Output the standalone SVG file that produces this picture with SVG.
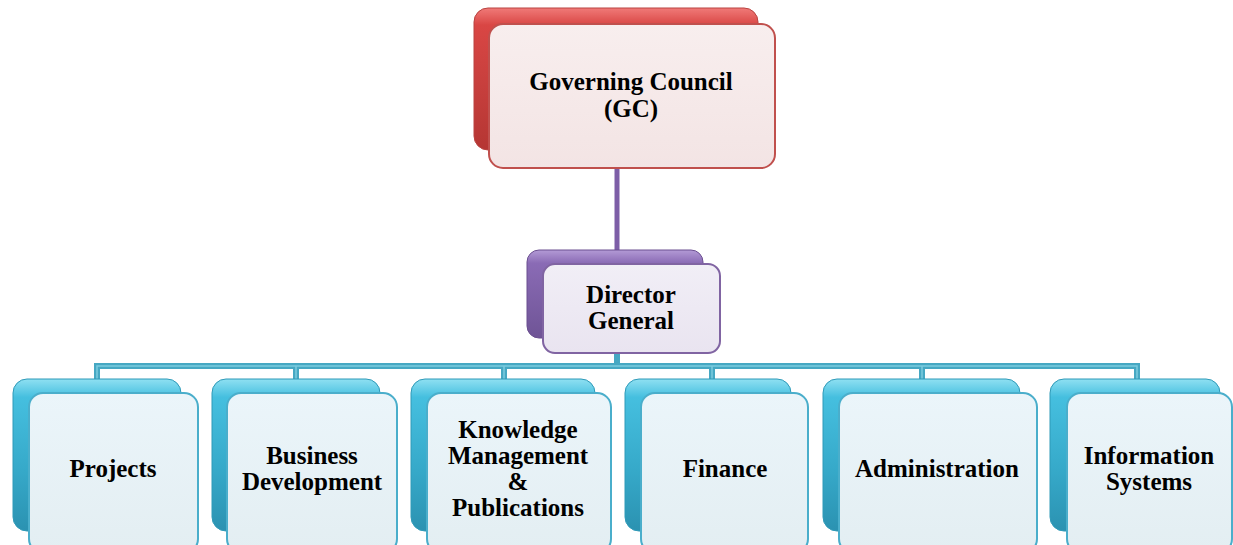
<svg xmlns="http://www.w3.org/2000/svg" width="1233" height="545" viewBox="0 0 1233 545">
<style>
text{font-family:"Liberation Serif","Times New Roman",serif;font-weight:bold;font-size:25px;fill:#000;text-anchor:middle}
.fr{fill:url(#fr);stroke:#c0504d;stroke-width:2}
.fp{fill:url(#fp);stroke:#8064a2;stroke-width:2}
.ft{fill:url(#ft);stroke:#4aaecb;stroke-width:2}
.br{fill:url(#gr);stroke:#b94340;stroke-width:1}
.bp{fill:url(#gp);stroke:#6b4f90;stroke-width:1}
.bt{fill:url(#gt);stroke:#2f9ab8;stroke-width:1}
.ct{fill:none;stroke:#46a8c3;stroke-width:6}
.ci{fill:none;stroke:#7ccbe0;stroke-width:1.5}
</style>
<defs>
<linearGradient id="gr" x1="0" y1="0" x2="0" y2="1">
<stop offset="0" stop-color="#f07a78"/><stop offset="0.12" stop-color="#d94644"/><stop offset="0.5" stop-color="#c9403e"/><stop offset="1" stop-color="#b53633"/>
</linearGradient>
<linearGradient id="gp" x1="0" y1="0" x2="0" y2="1">
<stop offset="0" stop-color="#b39ad6"/><stop offset="0.15" stop-color="#8a6bb5"/><stop offset="1" stop-color="#6f5496"/>
</linearGradient>
<linearGradient id="gt" x1="0" y1="0" x2="0" y2="1">
<stop offset="0" stop-color="#8fe0f2"/><stop offset="0.12" stop-color="#45bfdf"/><stop offset="0.6" stop-color="#36a9c9"/><stop offset="1" stop-color="#2b92b1"/>
</linearGradient>
<linearGradient id="fr" x1="0" y1="0" x2="0" y2="1">
<stop offset="0" stop-color="#f8eeee"/><stop offset="1" stop-color="#f3e4e4"/>
</linearGradient>
<linearGradient id="fp" x1="0" y1="0" x2="0" y2="1">
<stop offset="0" stop-color="#f1eef6"/><stop offset="1" stop-color="#e9e4f0"/>
</linearGradient>
<linearGradient id="ft" x1="0" y1="0" x2="0" y2="1">
<stop offset="0" stop-color="#ebf5fa"/><stop offset="1" stop-color="#e3eef2"/>
</linearGradient>
</defs>

<g id="connectors">
<line x1="617" y1="168" x2="617" y2="252" stroke="#7d5ea7" stroke-width="5"/>
<line x1="617" y1="352" x2="617" y2="366" stroke="#46a8c3" stroke-width="6"/>
<path class="ct" d="M97 379 V366 H1137 V379 M296 366 V379 M504 366 V379 M712 366 V379 M922 366 V379"/>
<path class="ci" d="M97 379 V366 H1137 V379 M296 366 V379 M504 366 V379 M712 366 V379 M922 366 V379"/>
</g>

<g id="gc">
<rect class="br" x="474" y="8" width="284" height="142" rx="14"/>
<rect class="fr" x="489" y="24" width="286" height="144" rx="14"/>
<text x="631" y="90">Governing Council</text>
<text x="631" y="117">(GC)</text>
</g>

<g id="dg">
<rect class="bp" x="527" y="250" width="176" height="88" rx="12"/>
<rect class="fp" x="543" y="264" width="177" height="89" rx="12"/>
<text x="631" y="303">Director</text>
<text x="631" y="329">General</text>
</g>

<g id="projects">
<rect class="bt" x="13" y="379" width="168" height="152" rx="14"/>
<rect class="ft" x="29" y="393" width="169" height="160" rx="14"/>
<text x="113" y="477">Projects</text>
</g>

<g id="business">
<rect class="bt" x="212" y="379" width="168" height="152" rx="14"/>
<rect class="ft" x="227" y="393" width="170" height="160" rx="14"/>
<text x="312" y="464">Business</text>
<text x="312" y="490">Development</text>
</g>

<g id="knowledge">
<rect class="bt" x="411" y="379" width="184" height="152" rx="14"/>
<rect class="ft" x="427" y="393" width="184" height="160" rx="14"/>
<text x="518" y="438">Knowledge</text>
<text x="518" y="464">Management</text>
<text x="518" y="490">&amp;</text>
<text x="518" y="516">Publications</text>
</g>

<g id="finance">
<rect class="bt" x="625" y="379" width="166" height="152" rx="14"/>
<rect class="ft" x="641" y="393" width="167" height="160" rx="14"/>
<text x="725" y="477">Finance</text>
</g>

<g id="administration">
<rect class="bt" x="823" y="379" width="197" height="152" rx="14"/>
<rect class="ft" x="839" y="393" width="198" height="160" rx="14"/>
<text x="937" y="477">Administration</text>
</g>

<g id="information">
<rect class="bt" x="1050" y="379" width="170" height="152" rx="14"/>
<rect class="ft" x="1067" y="393" width="165" height="160" rx="14"/>
<text x="1149" y="464">Information</text>
<text x="1149" y="490">Systems</text>
</g>
</svg>
